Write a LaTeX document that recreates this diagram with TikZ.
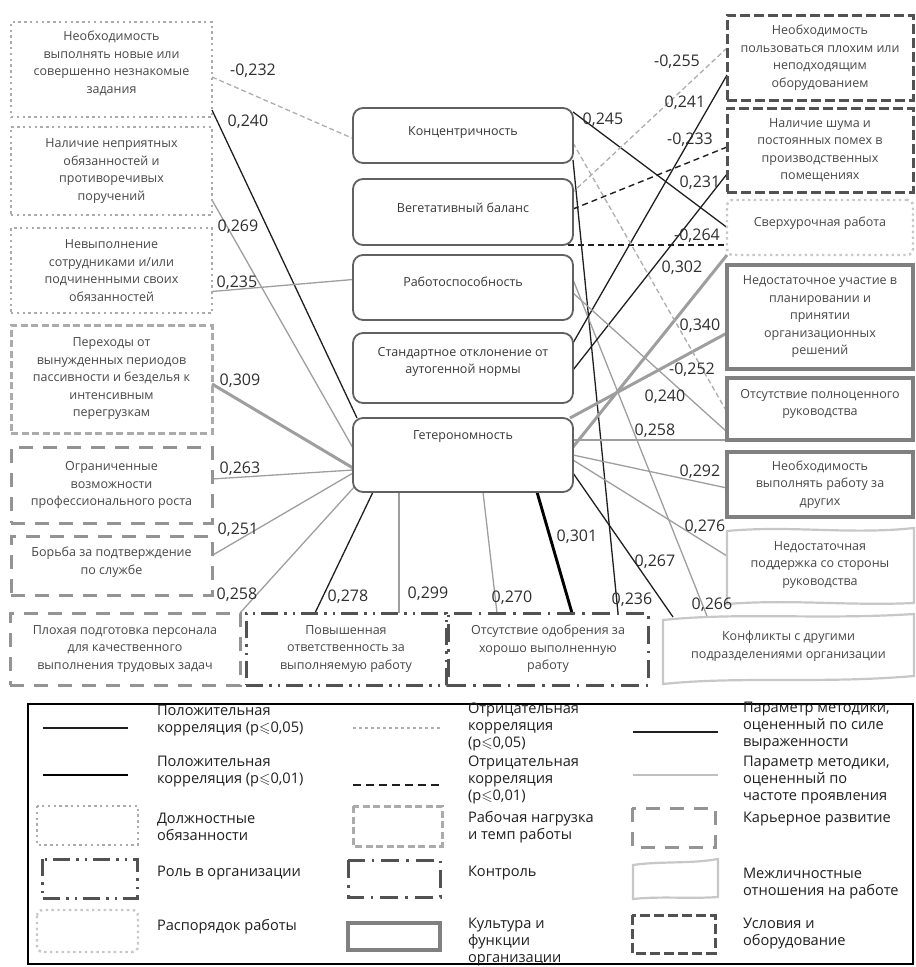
\documentclass[tikz,border=0pt]{standalone}
\usepackage{amssymb}
\usepackage{fontspec}
\setmainfont{Open Sans}
\usetikzlibrary{calc}
\pgfdeclarelayer{bg}
\pgfsetlayers{bg,main}
\begin{document}
\begin{tikzpicture}[x=1pt,y=-1pt,
  every node/.style={inner sep=0pt, outer sep=0pt},
  txt/.style={font=\fontsize{12.5}{17.5}\selectfont, text=black!72, align=center},
  ctxt/.style={font=\fontsize{12.5}{17.5}\selectfont, text=black!78, align=center},
  num/.style={font=\fontsize{16}{16}\selectfont, text=black!82},
  lg/.style={font=\fontsize{14.6}{17}\selectfont, text=black!88, align=left, anchor=west},
  duty/.style={txt, draw=black!33, line width=2.4pt, dash pattern=on 2.4pt off 3.4pt},
  sched/.style={txt, draw=black!22, line width=2.4pt, dash pattern=on 2.4pt off 3.4pt, rounded corners=6pt},
  load/.style={txt, draw=black!33, line width=3pt, dash pattern=on 7pt off 3.5pt},
  career/.style={txt, draw=black!42, line width=3pt, dash pattern=on 14pt off 10pt},
  role/.style={txt, draw=black!68, line width=3pt, dash pattern=on 17pt off 6pt on 2.5pt off 6pt on 2.5pt off 6pt},
  ctrl/.style={txt, draw=black!68, line width=3pt, dash pattern=on 18pt off 7pt on 2.5pt off 7pt},
  mezh/.style={draw=black!22, line width=2.2pt},
  cult/.style={txt, draw=black!50, line width=3.4pt},
  cond/.style={txt, draw=black!68, line width=3pt, dash pattern=on 10pt off 4pt},
  cbox/.style={draw=black!62, line width=1.8pt, rounded corners=10pt, fill=white, minimum width=220, text width=0pt},
  pthin/.style={draw=black!88, line width=1.3pt},
  pthick/.style={draw=black, line width=2.9pt},
  gthin/.style={draw=black!38, line width=1.3pt},
  gthick/.style={draw=black!38, line width=3pt},
  gdash/.style={draw=black!32, line width=1.3pt, dash pattern=on 5pt off 3pt},
  bdash/.style={draw=black!88, line width=1.4pt, dash pattern=on 6pt off 4pt}
]
\useasboundingbox (0,0) rectangle (916,967);

% ---------------- left boxes
\node[duty, minimum width=201, minimum height=95] (L1) at (111.5,69.5) {};
\node[txt] (L1t) at (111.5,63.5) {Необходимость\\выполнять новые или\\совершенно незнакомые\\задания};
\node[duty, minimum width=201, minimum height=88] (L2) at (111.5,171) {Наличие неприятных\\обязанностей и\\противоречивых\\поручений};
\node[duty, minimum width=201, minimum height=85] (L3) at (111.5,270.5) {Невыполнение\\сотрудниками и/или\\подчиненными своих\\обязанностей};
\node[load, minimum width=201, minimum height=108] (L4) at (111.5,379) {Переходы от\\вынужденных периодов\\пассивности и безделья к\\интенсивным\\перегрузкам};
\node[career, minimum width=201, minimum height=76] (L5) at (111.5,485) {Ограниченные\\возможности\\профессионального роста};
\node[career, minimum width=201, minimum height=59] (L6) at (111.5,565.5) {};
\node[txt] (L6t) at (111.5,562) {Борьба за подтверждение\\по службе};

% ---------------- bottom boxes
\node[career, minimum width=230, minimum height=72] (B1) at (125,649) {Плохая подготовка персонала\\для качественного\\выполнения трудовых задач};
\node[role, minimum width=200, minimum height=72] (B2) at (346,649) {Повышенная\\ответственность за\\выполняемую работу};
\node[ctrl, minimum width=200, minimum height=72] (B3) at (548,649) {Отсутствие одобрения за\\хорошо выполненную\\работу};
\node[minimum width=251, minimum height=68] (B4) at (788.5,651) {};
\node[txt] (B4t) at (788.5,646) {Конфликты с другими\\подразделениями организации};
\draw[mezh] (663,620) .. controls (740,612) and (820,620) .. (914,614) -- (914,676) .. controls (820,684) and (740,676) .. (663,684) -- cycle;

% ---------------- right boxes
\node[cond, minimum width=186, minimum height=85] (R1) at (820,57.5) {Необходимость\\пользоваться плохим или\\неподходящим\\оборудованием};
\node[cond, minimum width=186, minimum height=84] (R2) at (820,150) {Наличие шума и\\постоянных помех в\\производственных\\помещениях};
\node[sched, minimum width=186, minimum height=55] (R3) at (820,227.5) {};
\node[txt] (R3t) at (820,223) {Сверхурочная работа};
\node[cult, minimum width=186, minimum height=104] (R4) at (820,317) {Недостаточное участие в\\планировании и\\принятии\\организационных\\решений};
\node[cult, minimum width=186, minimum height=62] (R5) at (820,409) {};
\node[txt] (R5t) at (820,404) {Отсутствие полноценного\\руководства};
\node[cult, minimum width=186, minimum height=65] (R6) at (820,484.5) {Необходимость\\выполнять работу за\\других};
\node[txt, minimum width=186, minimum height=73] (R7) at (820,565) {Недостаточная\\поддержка со стороны\\руководства};
\draw[mezh] (727,531) .. controls (790,525) and (850,535) .. (914,528) -- (914,603) .. controls (850,606) and (790,599) .. (727,604) -- cycle;

% ---------------- centre boxes
\node[cbox, minimum height=55] (C1) at (463,135.5) {};
\node[cbox, minimum height=66] (C2) at (463,212) {};
\node[cbox, minimum height=65] (C3) at (463,287.5) {};
\node[cbox, minimum height=70] (C4) at (463,368) {};
\node[cbox, minimum height=74] (C5) at (463,455) {};
\node[ctxt] (C1t) at (463,133) {Концентричность};
\node[ctxt] (C2t) at (463,208) {Вегетативный баланс};
\node[ctxt] (C3t) at (463,282) {Работоспособность};
\node[ctxt] (C4t) at (463,362) {Стандартное отклонение от\\аутогенной нормы};
\node[ctxt] (C5t) at (463,437) {Гетерономность};

% ---------------- connectors
\begin{pgfonlayer}{bg}
\draw[gdash]  ($(L1.east)+(0,7.5)$) -- ($(C1.west)+(0,3)$);
\draw[pthin]  ($(L1.east)+(0,40.5)$) -- ($(C5.north west)+(4,0)$);
\draw[gthin]  ($(L2.east)+(0,29)$) -- ($(C5.west)+(0,-7)$);
\draw[gthin]  ($(L3.east)+(0,21)$) -- ($(C3.west)+(0,-8)$);
\draw[gthick] ($(L4.east)+(0,5)$) -- ($(C5.west)+(0,13)$);
\draw[gthin]  ($(L5.east)+(0,-6)$) -- ($(C5.west)+(0,15)$);
\draw[gthin]  ($(L6.east)+(0,-10)$) -- ($(C5.west)+(0,18)$);
\draw[gthin]  (B1.north east) -- ($(C5.west)+(3,30)$);

\draw[pthin]  ($(B2.north)+(-31,0)$) -- ($(C5.south)+(-90,0)$);
\draw[gthin]  ($(B2.north)+(53,0)$) -- ($(C5.south)+(-64,0)$);
\draw[gthin]  ($(B3.north)+(-51,0)$) -- ($(C5.south)+(20,0)$);
\draw[pthick] ($(B3.north)+(24,0)$) -- ($(C5.south)+(74,0)$);
\draw[pthin]  ($(B3.north)+(70,0)$) -- ($(C1.south east)+(0,-3)$);
\draw[pthin]  ($(B4.north west)+(10,0)$) -- ($(C5.east)+(0,18)$);
\draw[gthin]  ($(B4.north west)+(44,-1)$) -- ($(C3.east)+(0,-8)$);

\draw[pthin]  ($(C1.north east)+(0,4)$) -- (R3.west);
\draw[gdash]  ($(R1.west)+(0,-9.5)$) -- ($(C2.east)+(0,-20)$);
\draw[pthin]  ($(R1.west)+(0,17.5)$) -- ($(C4.east)+(0,-25)$);
\draw[bdash]  ($(R2.west)+(0,-3)$) -- ($(C2.east)+(0,-3)$);
\draw[pthin]  ($(R2.west)+(0,24)$) -- ($(C4.east)+(0,2)$);
\draw[bdash]  ($(C2.south east)+(-5,0)$) -- ($(R3.west)+(0,17.5)$);
\draw[gthick] (R3.south west) -- ($(C5.east)+(0,-8)$);
\draw[gthick] ($(R4.west)+(0,16)$) -- ($(C5.north east)+(-3,0)$);
\draw[gdash]  ($(C1.east)+(0,7.5)$) -- ($(R5.west)+(0,3)$);
\draw[gthin]  ($(C3.east)+(0,5.5)$) -- ($(R5.south west)+(0,-8)$);
\draw[gthin]  ($(C5.east)+(0,-15)$) -- (R5.south west);
\draw[gthin]  (C5.east) -- ($(R6.west)+(0,3.5)$);
\draw[gthin]  ($(C5.east)+(0,5)$) -- ($(R7.west)+(0,-9)$);
\end{pgfonlayer}

% ---------------- numbers
\node[num] (n1) at (253,71) {-0,232};
\node[num] (n2) at (248,122) {0,240};
\node[num] (n3) at (238,227) {0,269};
\node[num] (n4) at (237,283) {0,235};
\node[num] (n5) at (240,381) {0,309};
\node[num] (n6) at (240,469) {0,263};
\node[num] (n7) at (238,530) {0,251};
\node[num] (n8) at (237,595) {0,258};
\node[num] (n9) at (348,597) {0,278};
\node[num] (n10) at (428,594) {0,299};
\node[num] (n11) at (512,598) {0,270};
\node[num] (n12) at (577,537) {0,301};
\node[num] (n13) at (632,600) {0,236};
\node[num] (n14) at (655,562) {0,267};
\node[num] (n15) at (712,605) {0,266};
\node[num] (n16) at (603,120) {0,245};
\node[num] (n17) at (677,62) {-0,255};
\node[num] (n18) at (685,103) {0,241};
\node[num] (n19) at (690,140) {-0,233};
\node[num] (n20) at (700,183) {0,231};
\node[num] (n21) at (697,236) {-0,264};
\node[num] (n22) at (682,268) {0,302};
\node[num] (n23) at (700,326) {0,340};
\node[num] (n24) at (692,370) {-0,252};
\node[num] (n25) at (665,397) {0,240};
\node[num] (n26) at (655,431) {0,258};
\node[num] (n27) at (700,472) {0,292};
\node[num] (n28) at (705,527) {0,276};

% ---------------- legend
\draw[line width=2.6pt] (28,704) rectangle (913,964);
\draw[pthin] (43,728) -- (128,728);
\draw[gdash, dash pattern=on 3pt off 3pt] (353,728) -- (440,728);
\draw[pthin] (633,732) -- (718,732);
\draw[pthick] (43,775) -- (128,775);
\draw[bdash, line width=2.6pt, dash pattern=on 8pt off 5pt] (353,785) -- (440,785);
\draw[draw=black!25, line width=1.4pt] (633,775) -- (718,775);
\draw[duty] (37,806) rectangle (138,845);
\draw[load] (353,806) rectangle (442,846);
\draw[career] (632,808) rectangle (715,847);
\draw[role] (42,859) rectangle (137,898);
\draw[ctrl] (348,860) rectangle (440,897);
\draw[mezh] (633,865) .. controls (660,861) and (690,864) .. (718,859) -- (718,897) .. controls (690,899) and (660,896) .. (633,899) -- cycle;
\draw[sched] (37,910) rectangle (138,952);
\draw[cult] (348,923) rectangle (440,950);
\draw[cond] (632,915) rectangle (715,953);

\node[lg] (g1) at (157,721) {Положительная\\корреляция (р$\leqslant$0{,}05)};
\node[lg] (g2) at (468,726.5) {Отрицательная\\корреляция\\(р$\leqslant$0{,}05)};
\node[lg] (g3) at (743,726.5) {Параметр методики,\\оцененный по силе\\выраженности};
\node[lg] (g4) at (157,771.5) {Положительная\\корреляция (р$\leqslant$0{,}01)};
\node[lg] (g5) at (468,780) {Отрицательная\\корреляция\\(р$\leqslant$0{,}01)};
\node[lg] (g6) at (743,780) {Параметр методики,\\оцененный по\\частоте проявления};
\node[lg] (g7) at (157,827) {Должностные\\обязанности};
\node[lg] (g8) at (468,827.5) {Рабочая нагрузка\\и темп работы};
\node[lg] (g9) at (743,819) {Карьерное развитие};
\node[lg] (g10) at (157,873) {Роль в организации};
\node[lg] (g11) at (468,873) {Контроль};
\node[lg] (g12) at (743,883.5) {Межличностные\\отношения на работе};
\node[lg] (g13) at (157,927) {Распорядок работы};
\node[lg] (g14) at (468,942.5) {Культура и\\функции\\организации};
\node[lg] (g15) at (743,934) {Условия и\\оборудование};
\end{tikzpicture}
\end{document}
